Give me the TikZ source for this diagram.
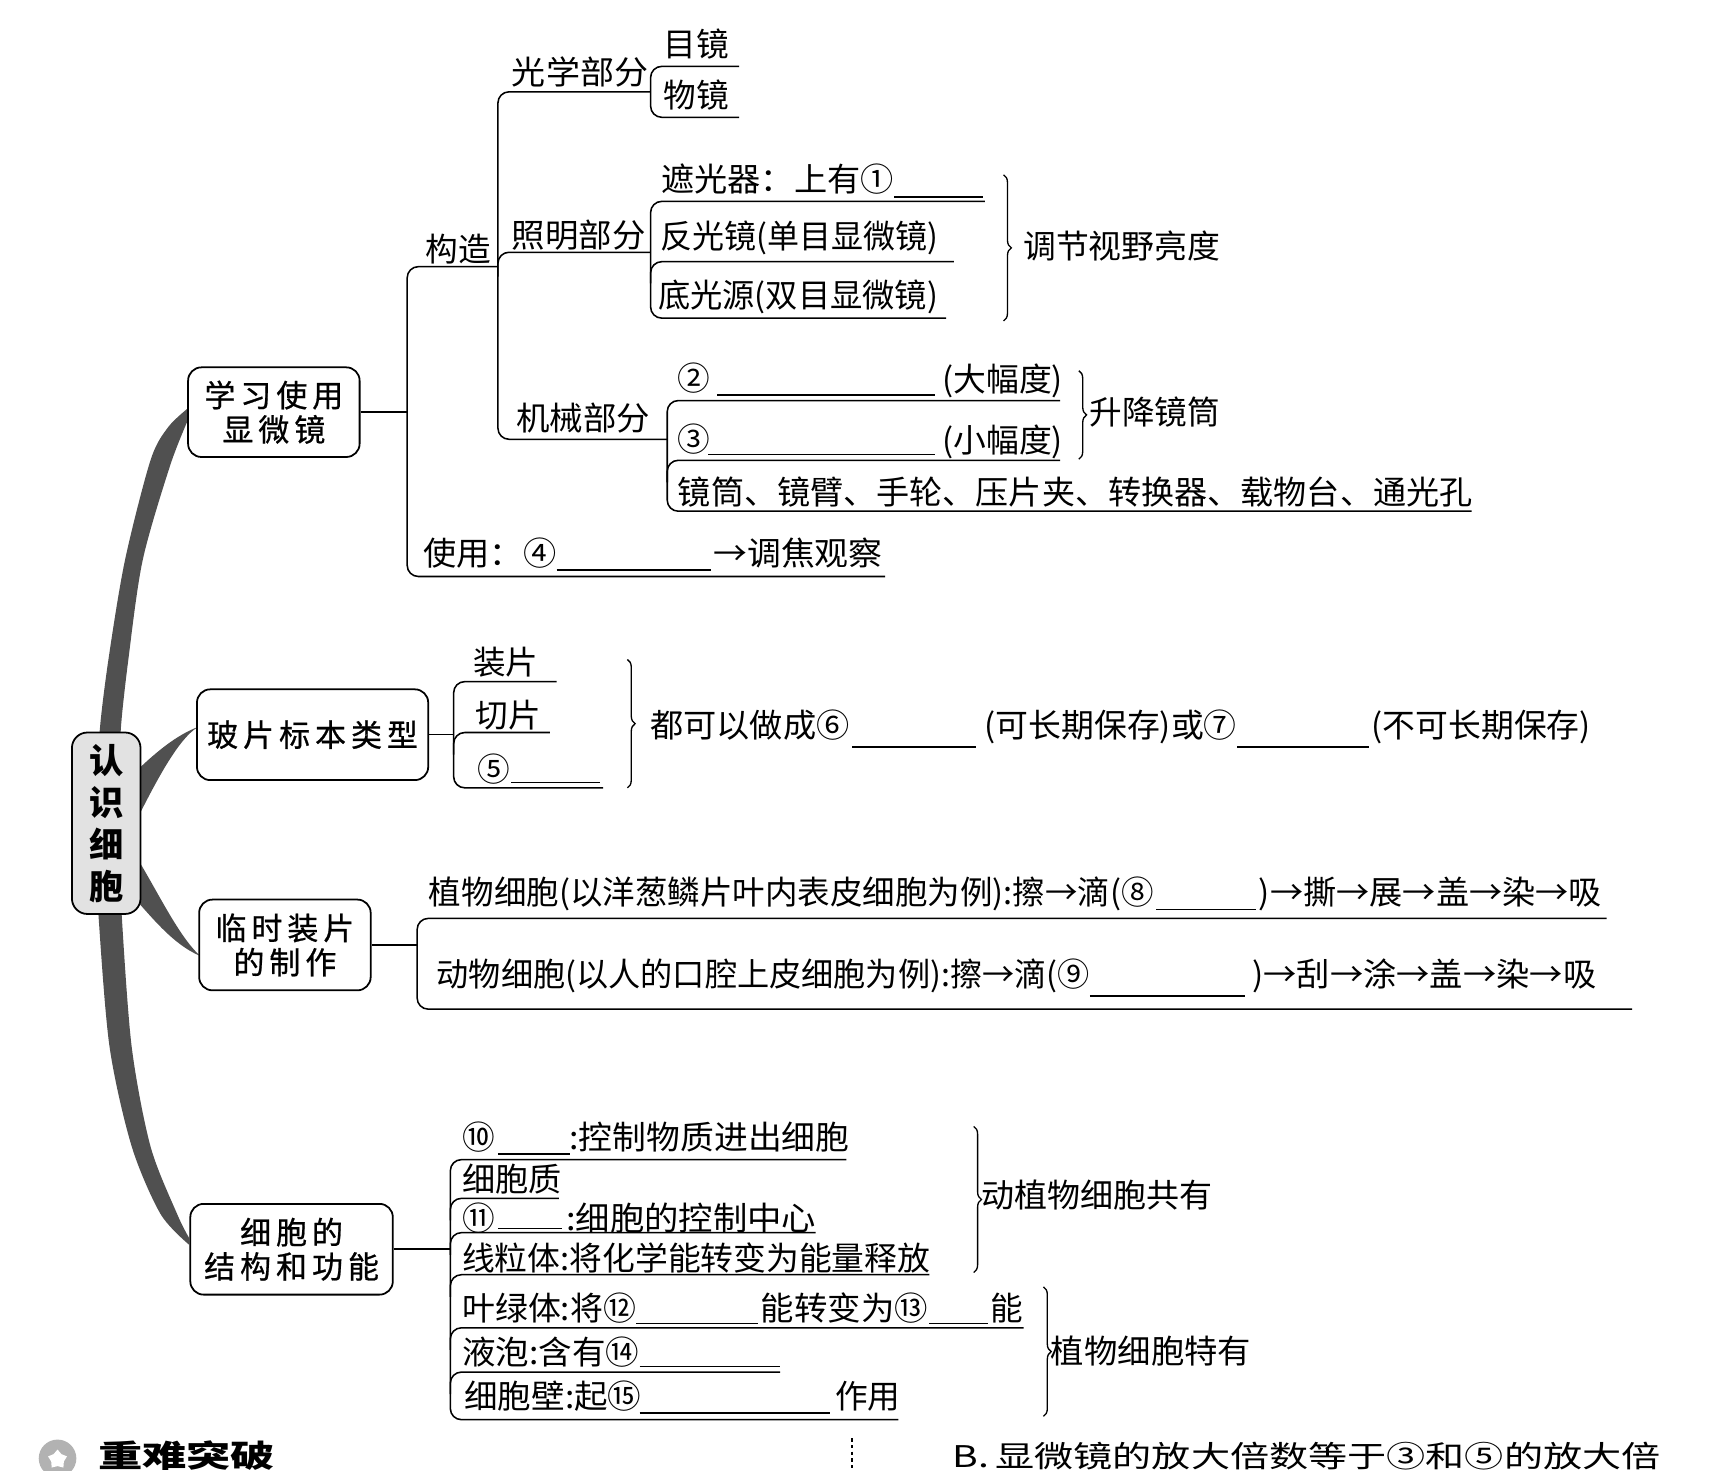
\documentclass[tikz,border=0pt]{standalone}
\usepackage{fontspec}
\setmainfont{Noto Sans CJK SC}
\newfontfamily\boxfont{Noto Sans CJK SC}[FakeBold=0.7]
\usepackage{graphicx}
\usetikzlibrary{decorations.pathreplacing,shapes.geometric}
\newcommand\fw[2]{\resizebox{#1pt}{\height}{#2}}
\newcommand\blk{\kern4.5pt}
\definecolor{trunkc}{HTML}{505050}
\definecolor{rootc}{HTML}{E2E2E2}
\begin{document}
\begin{tikzpicture}[x=1pt,y=-1pt,line width=1.4pt,
  rc/.style={rounded corners=10pt},
  ul/.style={line width=1.3pt},
  t/.style={anchor=west,inner sep=0pt,font=\fontsize{29.5pt}{32pt}\selectfont,text height=26pt,text depth=3.5pt},
  box/.style={draw,rounded corners=12pt,line width=1.6pt,inner sep=0pt,align=center,fill=white,font=\boxfont\fontsize{28pt}{31pt}\selectfont},
  brc/.style={decorate,decoration={brace,amplitude=7pt},line width=1.2pt},
  trunk/.style={fill=trunkc}]
\useasboundingbox (0,0) rectangle (1568,1329);
\clip (0,0) rectangle (1568,1329);

% trunk and branches
\fill[trunk] plot[smooth] coordinates {(171,368) (152,386) (136,416) (113,506) (98,596) (90,662) (90,705)}
  -- plot[smooth] coordinates {(110,705) (109,662) (116,596) (129,506) (154,420) (171,377)} -- cycle;
\fill[trunk] plot[smooth] coordinates {(89,800) (89,827) (99,946) (119,1036) (145,1097) (171,1125)}
  -- plot[smooth] coordinates {(171,1119) (160,1097) (136,1036) (119,946) (110,827) (110,800)} -- cycle;
\fill[trunk] (118,702) .. controls (140,680) and (160,664) .. (179,657) .. controls (160,668) and (138,712) .. (118,752) -- cycle;
\fill[trunk] (118,766) .. controls (140,800) and (160,845) .. (181,864) .. controls (155,853) and (135,826) .. (118,808) -- cycle;

% root
\node[draw,rounded corners=14pt,line width=1.6pt,fill=rootc,minimum width=62pt,minimum height=164pt,inner sep=0pt,align=center,
  font=\fontsize{31pt}{38pt}\selectfont\bfseries] (root) at (96,744) {认\\识\\细\\胞};

% boxes
\node[box,minimum width=155pt,minimum height=81pt] (b1) at (247.5,372.5) {学\blk 习\blk 使\blk 用\\显\blk 微\blk 镜};
\node[box,minimum width=209pt,minimum height=82pt] (b2) at (282.5,664) {玻\blk 片\blk 标\blk 本\blk 类\blk 型};
\node[box,minimum width=155pt,minimum height=82pt] (b3) at (257.5,854) {临\blk 时\blk 装\blk 片\\的\blk 制\blk 作};
\node[box,minimum width=183pt,minimum height=82pt] (b4) at (263.5,1129) {细\blk 胞\blk 的\\结\blk 构\blk 和\blk 功\blk 能};

% ---------- section 1 ----------
\coordinate (v1) at (368,372.5);
\draw (b1.east) -- (v1);
\draw[rc] (450,241) -- (368,241) -- (368,521) -- (800,521);
\draw[rc] (588,83) -- (450,83) -- (450,397) -- (603,397);
\draw[rc] (450,250) -- (450,228) -- (588,228);
\draw[rc] (668,60) -- (588,60) -- (588,106) -- (668,106);
\draw[rc] (890,182) -- (588,182) -- (588,287.5) -- (855,287.5);
\draw[rc] (588,256) -- (588,236.5) -- (862,236.5);
\draw[rc] (958,362) -- (603,362) -- (603,462) -- (1330,462);
\draw[rc] (603,436) -- (603,416) -- (958,416);
\draw[ul] (808,178) -- (888,178);
\draw[ul] (648,357) -- (845,357);
\draw[ul] (640,411) -- (845,411);
\draw[ul] (503,515) -- (643,515);
\draw[brc] (907,158) -- (907,290);
\draw[brc] (975,335) -- (975,415);

\node[t] (t_mj) at (599,40) {目镜};
\node[t] (t_wj) at (599,86) {物镜};
\node[t] (t_gx) at (462,65) {\fw{123}{光学部分}};
\node[t] (t_gz) at (384,225) {构造};
\node[t] (t_zm) at (462,212) {\fw{121}{照明部分}};
\node[t] (t_jx) at (466,378) {\fw{121}{机械部分}};
\node[t] (t_zg) at (597,162) {\fw{210}{遮光器：上有①}};
\node[t] (t_fg) at (596,213) {\fw{251}{反光镜(单目显微镜)}};
\node[t] (t_dg) at (594,267) {\fw{253}{底光源(双目显微镜)}};
\node[t] (t_tj) at (924,222) {\fw{178}{调节视野亮度}};
\node[t] (t_c2) at (612,342) {②};
\node[t] (t_dfd) at (851,343) {\fw{109}{(大幅度)}};
\node[t] (t_c3) at (612,397) {③};
\node[t] (t_xfd) at (851,398) {\fw{109}{(小幅度)}};
\node[t] (t_jt) at (612,445) {\fw{718}{镜筒、镜臂、手轮、压片夹、转换器、载物台、通光孔}};
\node[t] (t_sj) at (984,372) {\fw{118}{升降镜筒}};
\node[t] (t_sy) at (382,500) {\fw{120}{使用：④}};
\node[t] (t_tjgc) at (644,500) {\fw{153}{→调焦观察}};

% ---------- section 2 ----------
\coordinate (v2) at (410,664);
\draw (b2.east) -- (v2);
\draw[rc] (503,616) -- (410,616) -- (410,712) -- (545,712);
\draw[rc] (410,682) -- (410,662) -- (497,662);
\draw[ul] (462,707) -- (542,707);
\draw[ul] (770,675) -- (882,675);
\draw[ul] (1118,675) -- (1237,675);
\draw[brc] (567,596) -- (567,712);

\node[t] (t_zp) at (427,598) {装片};
\node[t] (t_qp) at (429,646) {切片};
\node[t] (t_c5) at (431,695) {⑤};
\node[t] (t_dk) at (587,655) {\fw{180}{都可以做成⑥}};
\node[t] (t_kc) at (889,655) {\fw{228}{(可长期保存)或⑦}};
\node[t] (t_bk) at (1239,655) {\fw{198}{(不可长期保存)}};

% ---------- section 3 ----------
\coordinate (v3) at (377,854);
\draw (b3.east) -- (v3);
\draw[rc] (1452,830) -- (377,830) -- (377,912) -- (1475,912);
\draw[ul] (1045,822) -- (1135,822);
\draw[ul] (985,900) -- (1125,900);

\node[t] (t_zw1) at (387,806) {\fw{655}{植物细胞(以洋葱鳞片叶内表皮细胞为例):擦→滴(⑧}};
\node[t] (t_zw2) at (1137,806) {\fw{310}{)→撕→展→盖→染→吸}};
\node[t] (t_dw1) at (394,880) {\fw{590}{动物细胞(以人的口腔上皮细胞为例):擦→滴(⑨}};
\node[t] (t_dw2) at (1131,880) {\fw{311}{)→刮→涂→盖→染→吸}};

% ---------- section 4 ----------
\coordinate (v4) at (407,1129);
\draw (b4.east) -- (v4);
\draw[rc] (765,1048) -- (407,1048) -- (407,1283) -- (812,1283);
\foreach \yy/\ee in {1083/505,1114/737,1152/840,1200/925,1240/705}
  \draw[rc] (407,\yy+20) -- (407,\yy) -- (\ee,\yy);
\draw[ul] (450,1043) -- (515,1043);
\draw[ul] (450,1110) -- (508,1110);
\draw[ul] (575,1196) -- (685,1196);
\draw[ul] (840,1196) -- (893,1196);
\draw[ul] (578,1235) -- (705,1235);
\draw[ul] (578,1277) -- (750,1277);
\draw[brc] (880,1018) -- (880,1150);
\draw[brc] (943,1163) -- (943,1280);

\node[t] (t_c10) at (417,1028) {⑩};
\node[t] (t_kz) at (514,1028) {\fw{253}{:控制物质进出细胞}};
\node[t] (t_xbz) at (417,1066) {\fw{90}{细胞质}};
\node[t] (t_c11) at (417,1101) {⑪};
\node[t] (t_kzzx) at (511,1101) {\fw{226}{:细胞的控制中心}};
\node[t] (t_xlt) at (417,1137) {\fw{423}{线粒体:将化学能转变为能量释放}};
\node[t] (t_ylt) at (417,1182) {\fw{157}{叶绿体:将⑫}};
\node[t] (t_nzb) at (687,1182) {\fw{151}{能转变为⑬}};
\node[t] (t_neng) at (894,1182) {能};
\node[t] (t_yp) at (417,1222) {\fw{160}{液泡:含有⑭}};
\node[t] (t_xbb) at (419,1262) {\fw{160}{细胞壁:起⑮}};
\node[t] (t_zy) at (754,1262) {作用};
\node[t] (t_dzw) at (886,1080) {\fw{209}{动植物细胞共有}};
\node[t] (t_zwt) at (949,1221) {\fw{181}{植物细胞特有}};

% ---------- footer (kept inside the frame) ----------
\fill[gray!60] (52,1318) circle (17);
\node[star,star points=5,fill=white,minimum size=18pt,inner sep=0pt] (icon) at (52,1319) {};
\node[anchor=base west,inner sep=0pt,font=\fontsize{28pt}{28pt}\selectfont\bfseries] (t_znt) at (88,1326) {\fw{160}{重难突破}};
\draw[dashed,line width=1pt] (770,1300) -- (770,1329);
\node[anchor=base west,inner sep=0pt,font=\fontsize{27pt}{27pt}\selectfont] (t_B) at (860,1326) {\fw{640}{B.\,显微镜的放大倍数等于③和⑤的放大倍}};
\end{tikzpicture}
\end{document}
